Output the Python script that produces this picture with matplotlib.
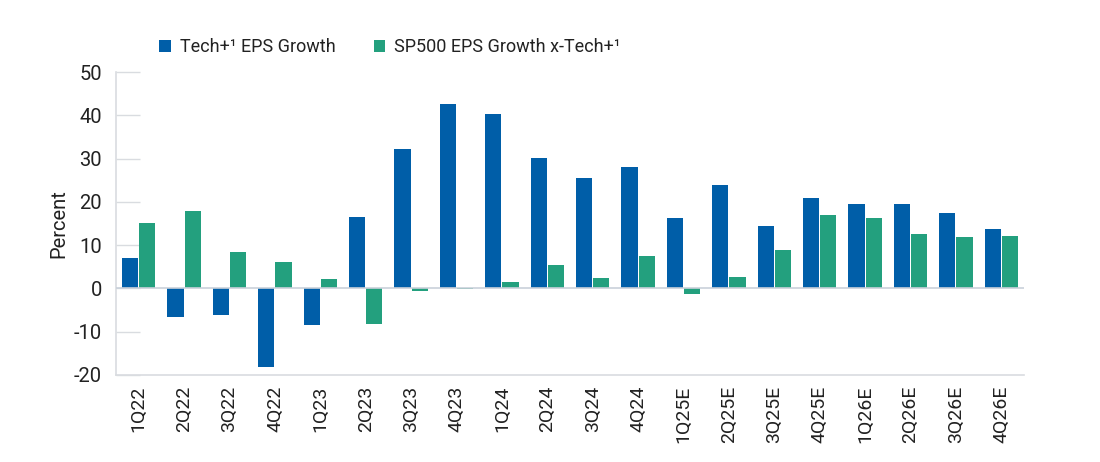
import matplotlib
matplotlib.use("Agg")
import matplotlib.pyplot as plt
import numpy as np

plt.rcParams['font.family'] = ['Roboto', 'DejaVu Sans']

categories = ["1Q22", "2Q22", "3Q22", "4Q22", "1Q23", "2Q23", "3Q23", "4Q23",
              "1Q24", "2Q24", "3Q24", "4Q24", "1Q25E", "2Q25E", "3Q25E", "4Q25E",
              "1Q26E", "2Q26E", "3Q26E", "4Q26E"]
tech_eps = [7.1, -6.5, -6.2, -18.2, -8.5, 16.4, 32.3, 42.5, 40.4, 30.2,
            25.5, 28.0, 16.3, 23.8, 14.4, 20.8, 19.5, 19.5, 17.4, 13.7]
sp500_xtech_eps = [15.1, 17.8, 8.5, 6.2, 2.2, -8.3, -0.7, -0.15, 1.4, 5.3,
                   2.5, 7.5, -1.3, 2.6, 8.9, 16.9, 16.2, 12.5, 11.8, 12.1]
series_names = ["Tech+\u00b9 EPS Growth", "SP500 EPS Growth x-Tech+\u00b9"]
yticks = [-20, -10, 0, 10, 20, 30, 40, 50]

blue = "#005EA8"
green = "#23A07E"
grid_c = "#D9DCE0"
text_c = "#222222"

fig = plt.figure(figsize=(11, 4.62), dpi=100)
ax = fig.add_axes([116/1100, 1 - 375/462, (1024-116)/1100, (375-72)/462])

x = np.arange(len(categories))
w = 0.36
off = 0.19
b1 = ax.bar(x - off, tech_eps, width=w, color=blue, label=series_names[0], zorder=2)
b2 = ax.bar(x + off, sp500_xtech_eps, width=w, color=green, label=series_names[1], zorder=2)

ax.set_xlim(-0.5, len(categories) - 0.5)
ax.set_ylim(-20, 50)
ax.set_yticks(yticks)
ax.set_yticklabels([str(v) for v in yticks], fontsize=14.5, color=text_c)
ax.set_xticks(x)
ax.set_xticklabels(categories, rotation=90, fontsize=14, color=text_c)
ax.tick_params(axis='x', length=0, pad=8)
ax.tick_params(axis='y', direction='in', length=17, color=grid_c, width=1, pad=10)

ax.axhline(0, color="#C9D1DA", lw=1.2, zorder=3)

for s in ['top', 'right']:
    ax.spines[s].set_visible(False)
for s in ['left', 'bottom']:
    ax.spines[s].set_color(grid_c)
    ax.spines[s].set_linewidth(1.2)

ax.set_ylabel("Percent", fontsize=14.5, color=text_c, labelpad=4)

leg = fig.legend(handles=[b1, b2], labels=series_names, loc='center',
                 bbox_to_anchor=(390/1100, 1 - 47/462), ncol=2, frameon=False,
                 fontsize=13, handlelength=0.65, handleheight=0.65,
                 handletextpad=0.5, columnspacing=2.1, labelcolor=text_c)

fig.savefig("out.png", dpi=100)
